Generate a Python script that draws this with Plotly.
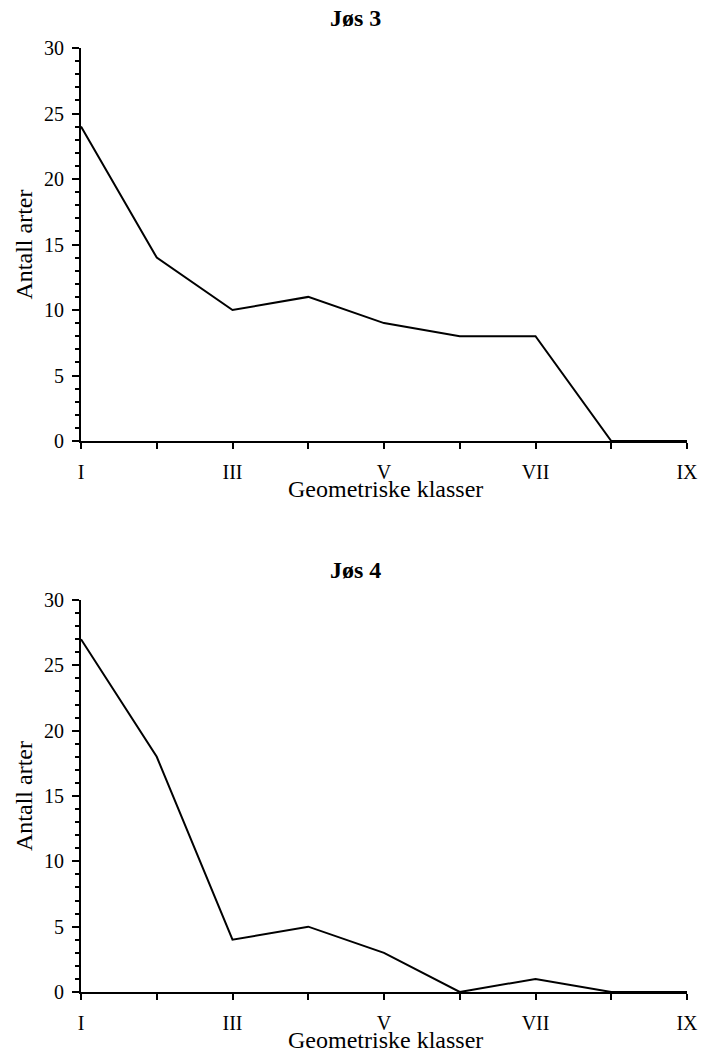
import plotly.graph_objects as go

categories = ["I", "II", "III", "IV", "V", "VI", "VII", "VIII", "IX"]
tick_labels = ["I", "", "III", "", "V", "", "VII", "", "IX"]
jos3_values = [24, 14, 10, 11, 9, 8, 8, 0, 0]
jos4_values = [27, 18, 4, 5, 3, 0, 1, 0, 0]
titles = ["Jøs 3", "Jøs 4"]
x_title = "Geometriske klasser"
y_title = "Antall arter"

W, H = 701, 1052
FONT = "Liberation Serif"

fig = go.Figure()

x0, x1 = 81, 687
panels = [(48, 441), (600, 992)]

def py(p):
    return 1 - p / H

for i, (vals, (top, bot)) in enumerate(zip([jos3_values, jos4_values], panels)):
    xa = "x" if i == 0 else "x2"
    ya = "y" if i == 0 else "y2"
    fig.add_trace(go.Scatter(x=categories, y=vals, mode="lines",
                             line=dict(color="black", width=2),
                             xaxis=xa, yaxis=ya, showlegend=False,
                             cliponaxis=False))
    axkey = "" if i == 0 else "2"
    fig.update_layout(**{
        f"xaxis{axkey}": dict(
            domain=[x0 / W, x1 / W], anchor=ya, type="category",
            categoryorder="array", categoryarray=categories,
            range=[0, 8], tickmode="array", tickvals=categories, ticktext=tick_labels,
            ticks="outside", ticklen=6, tickwidth=2, tickcolor="black",
            ticklabelstandoff=6,
            showline=True, linecolor="black", linewidth=2, showgrid=False,
            zeroline=False, automargin=False,
            tickfont=dict(family=FONT, size=20, color="black"),
        ),
        f"yaxis{axkey}": dict(
            domain=[py(bot), py(top)], anchor=xa, range=[0, 30],
            tickmode="linear", tick0=0, dtick=5,
            ticks="outside", ticklen=7, tickwidth=2, tickcolor="black",
            ticklabelstandoff=4,
            minor=dict(dtick=1, ticks="outside", ticklen=4, tickwidth=2, tickcolor="black"),
            showline=True, linecolor="black", linewidth=2, showgrid=False,
            zeroline=False, automargin=False,
            tickfont=dict(family=FONT, size=20, color="black"),
        ),
    })
    fig.add_annotation(text=f"<b>{titles[i]}</b>", x=355 / W, y=py(top - 30),
                       xref="paper", yref="paper", showarrow=False,
                       font=dict(family=FONT, size=24, color="black"),
                       xanchor="center", yanchor="middle")
    fig.add_annotation(text=x_title, x=385 / W, y=py(bot + 48),
                       xref="paper", yref="paper", showarrow=False,
                       font=dict(family=FONT, size=24, color="black"),
                       xanchor="center", yanchor="middle")
    fig.add_annotation(text=y_title, x=24 / W, y=py((top + bot) / 2),
                       xref="paper", yref="paper", showarrow=False, textangle=-90,
                       font=dict(family=FONT, size=24, color="black"),
                       xanchor="center", yanchor="middle")

fig.update_layout(width=W, height=H, margin=dict(l=0, r=0, t=0, b=0),
                  paper_bgcolor="white", plot_bgcolor="white",
                  font=dict(family=FONT, color="black"))

fig.write_html("out.html")
